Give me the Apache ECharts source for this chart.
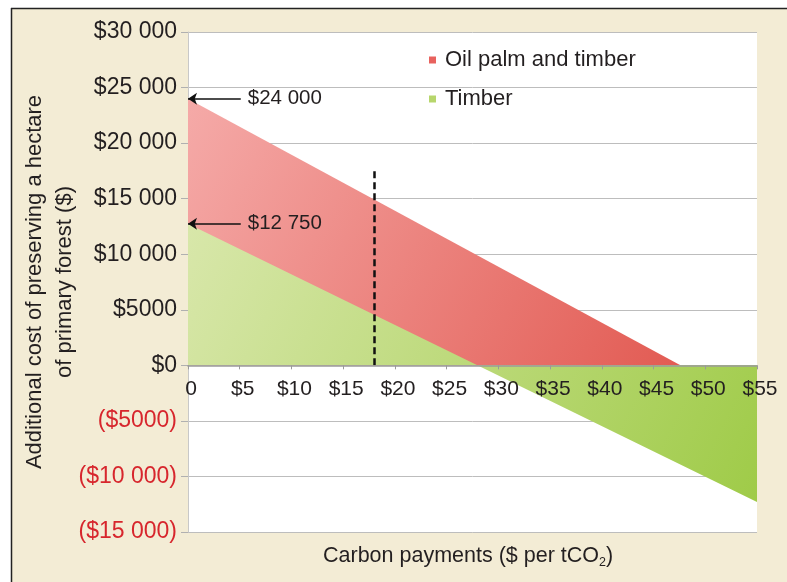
<!DOCTYPE html>
<html><head><meta charset="utf-8">
<script src="https://cdn.jsdelivr.net/npm/echarts@6/dist/echarts.min.js"></script>
<style>html,body{margin:0;padding:0;background:#fff}#c{width:787px;height:582px}</style>
</head><body><div id="c"></div>
<script>
// ---- data ----
const seriesNames = ['Oil palm and timber', 'Timber'];
const oilPalmX = [0, 47.6];
const oilPalmY = [24000, 0];
const timberX = [0, 55];
const timberY = [12750, -12300];
const xTickLabels = ['0','$5','$10','$15','$20','$25','$30','$35','$40','$45','$50','$55'];
const yTickLabels = ['($15 000)','($10 000)','($5000)','$0','$5000','$10 000','$15 000','$20 000','$25 000','$30 000'];
const intercepts = [24000, 12750];
const interceptLabels = ['$24 000', '$12 750'];
const carbonPrice = 18;
const carbonPriceTop = 17500;

const Y_MIN = -15000, Y_MAX = 30000;
const FONT = '"Liberation Sans", Arial, Helvetica, sans-serif';
const INK = '#231f20';
const GRID = { left: 188, right: 30, top: 32, bottom: 50 };
const chartH = 582;
const plotH = chartH - GRID.top - GRID.bottom;
// distance of the zero line above the plot bottom, from the axis scale
const zeroOffset = plotH * (0 - Y_MIN) / (Y_MAX - Y_MIN);

const chart = echarts.init(document.getElementById('c'));
const pairs = (xs, ys) => xs.map((x, i) => [x, ys[i]]);

chart.setOption({
  backgroundColor: '#f3ecd5',
  animation: false,
  textStyle: { fontFamily: FONT },
  graphic: [
    { type: 'rect', z: -1, shape: { x: 0, y: 0, width: 787, height: 8 }, style: { fill: '#fff' }, silent: true },
    { type: 'rect', z: -1, shape: { x: 0, y: 0, width: 11, height: 582 }, style: { fill: '#fff' }, silent: true },
    { type: 'line', z: -1, shape: { x1: 11, y1: 8.5, x2: 787, y2: 8.5 }, style: { stroke: '#222', lineWidth: 1.5 }, silent: true },
    { type: 'line', z: -1, shape: { x1: 11.5, y1: 8, x2: 11.5, y2: 582 }, style: { stroke: '#222', lineWidth: 1.5 }, silent: true }
  ],
  title: {
    text: '{a|Carbon payments ($ per tCO}{s|2}{a|)}',
    left: 318, top: 538,
    textStyle: {
      fontWeight: 'normal',
      rich: {
        a: { fontSize: 21.5, fontWeight: 'normal', color: INK, fontFamily: FONT, lineHeight: 26, verticalAlign: 'middle' },
        s: { fontSize: 12.5, fontWeight: 'normal', color: INK, fontFamily: FONT, lineHeight: 26, verticalAlign: 'bottom' }
      }
    }
  },
  legend: {
    orient: 'vertical', left: 424, top: 44,
    itemWidth: 7, itemHeight: 7, itemGap: 17, icon: 'rect',
    textStyle: { fontSize: 22, color: INK, fontFamily: FONT, padding: [0, 0, 0, 4] },
    data: seriesNames
  },
  grid: Object.assign({ show: true, backgroundColor: '#fff', borderWidth: 0, containLabel: false, outerBoundsMode: 'none' }, GRID),
  xAxis: {
    type: 'value', min: 0, max: 55, interval: 5, z: 10,
    position: 'bottom', offset: -zeroOffset,
    axisLine: { onZero: false, lineStyle: { color: '#9a9a9a', width: 1.5 } },
    axisTick: { show: true, length: 4, lineStyle: { color: '#9a9a9a' } },
    splitLine: { show: false },
    axisLabel: {
      fontSize: 21, color: INK, fontFamily: FONT, margin: 13,
      padding: [0, 0, 0, 6],
      formatter: (v) => xTickLabels[Math.round(v / 5)]
    }
  },
  yAxis: {
    type: 'value', min: Y_MIN, max: Y_MAX, interval: 5000,
    name: 'Additional cost of preserving a hectare\nof primary forest ($)',
    nameLocation: 'middle', nameGap: 108, nameRotate: 90, nameMoveOverlap: false,
    nameTextStyle: { fontSize: 22, color: INK, fontFamily: FONT, lineHeight: 30 },
    axisLine: { show: true, lineStyle: { color: '#c8c8c8' } },
    axisTick: { show: true, length: 7, lineStyle: { color: '#b0b0b0' } },
    splitLine: { lineStyle: { color: '#bdbdbd', width: 1 } },
    axisLabel: {
      fontSize: 23, fontFamily: FONT, margin: 11,
      color: (v) => (Number(v) < 0 ? '#d7262d' : INK),
      formatter: (v) => yTickLabels[Math.round((v - Y_MIN) / 5000)]
    }
  },
  series: [
    {
      name: seriesNames[0], type: 'line', data: pairs(oilPalmX, oilPalmY),
      showSymbol: false, symbol: 'none', z: 2,
      itemStyle: { color: '#e8625e' },
      lineStyle: { width: 0 },
      areaStyle: {
        opacity: 1,
        color: new echarts.graphic.LinearGradient(0, 0, 1, 1, [
          { offset: 0, color: '#f5aaa8' }, { offset: 1, color: '#e25b53' }
        ])
      },
      markLine: {
        silent: true, symbol: ['none', 'arrow'], symbolSize: 9,
        lineStyle: { color: '#111', width: 1.5, type: 'solid' },
        label: { show: true, position: 'start', fontSize: 20.5, color: INK, fontFamily: FONT, distance: 7 },
        data: intercepts.map((y, i) => [
          { coord: [5.1, y], name: interceptLabels[i], label: { formatter: interceptLabels[i] } },
          { coord: [0, y] }
        ]).concat([[
          { coord: [carbonPrice, 0], lineStyle: { type: [7, 4], width: 2.5, color: '#111' }, label: { show: false }, symbol: 'none' },
          { coord: [carbonPrice, carbonPriceTop], symbol: 'none' }
        ]])
      }
    },
    {
      name: seriesNames[1], type: 'line', data: pairs(timberX, timberY),
      showSymbol: false, symbol: 'none', z: 3,
      itemStyle: { color: '#b7d66c' },
      lineStyle: { width: 0 },
      areaStyle: {
        opacity: 1,
        color: new echarts.graphic.LinearGradient(0, 0, 1, 1, [
          { offset: 0, color: '#d8e7aa' }, { offset: 1, color: '#9fcb48' }
        ])
      }
    }
  ]
});
</script></body></html>
